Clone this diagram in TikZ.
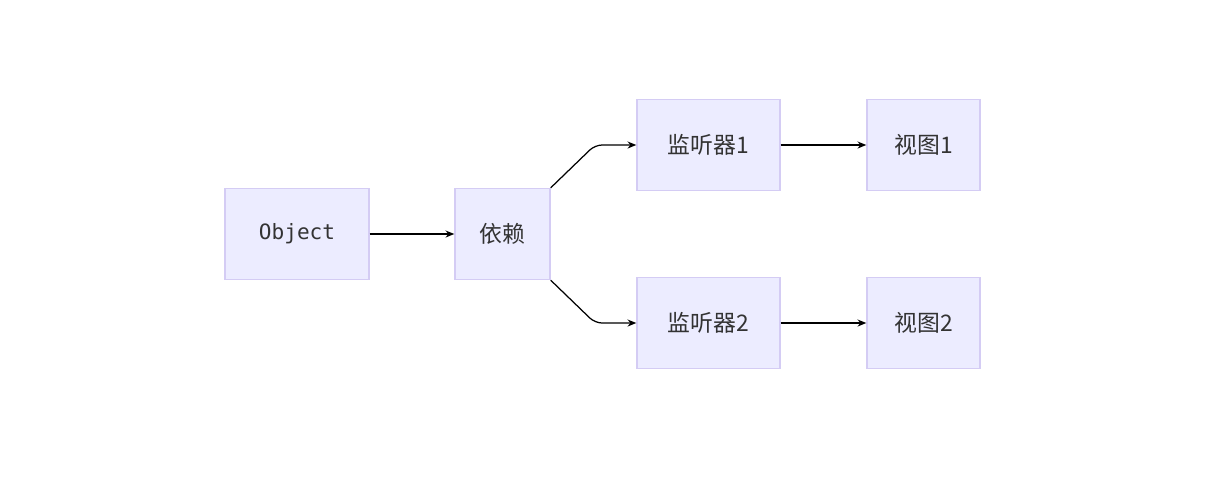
\documentclass[tikz,border=0pt]{standalone}
\usepackage{fontspec}
\newfontfamily\cjk{Noto Sans CJK SC}
\setmonofont{DejaVu Sans Mono}
\usetikzlibrary{positioning,arrows.meta}
\definecolor{boxfill}{HTML}{ECECFF}
\definecolor{boxline}{HTML}{D4CCF4}
\definecolor{txt}{HTML}{333333}
\begin{document}
\begin{tikzpicture}[x=0.02cm,y=-0.02cm,
 box/.style={draw=boxline,fill=boxfill,line width=0.8pt,minimum height=1.82cm,
  text=txt,font=\cjk\fontsize{13}{15}\selectfont,inner sep=0pt},
 link/.style={-{Stealth[length=5pt,width=4pt]},line width=0.7pt,rounded corners=4pt}]
 \useasboundingbox (0,0) rectangle (1230,478);

 \node[box,minimum width=2.88cm] (obj) at (297,234) {\ttfamily\fontsize{12}{14}\selectfont Object};
 \node[box,minimum width=1.9cm] (dep) at (502.5,234) {依赖};
 \node[box,minimum width=2.86cm] (lis1) at (708.5,145) {监听器1};
 \node[box,minimum width=2.86cm] (lis2) at (708.5,323) {监听器2};
 \node[box,minimum width=2.26cm] (view1) at (923.5,145) {视图1};
 \node[box,minimum width=2.26cm] (view2) at (923.5,323) {视图2};

 \draw[link] (obj.east) -- (dep.west);
 \draw[link] (dep.north east) -- (595,145) -- (lis1.west);
 \draw[link] (dep.south east) -- (595,323) -- (lis2.west);
 \draw[link] (lis1.east) -- (view1.west);
 \draw[link] (lis2.east) -- (view2.west);
\end{tikzpicture}
\end{document}
